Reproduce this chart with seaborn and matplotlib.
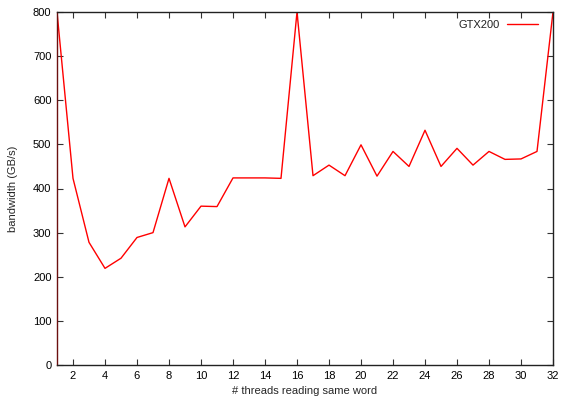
import matplotlib
matplotlib.use("Agg")
import matplotlib.pyplot as plt
import seaborn as sns
import pandas as pd

threads = list(range(1, 33))
bandwidth = [800, 423, 278, 219, 242, 289, 300, 423, 313, 360, 359, 424,
             424, 424, 423, 800, 429, 453, 429, 499, 428, 484, 450, 532,
             450, 491, 453, 484, 466, 467, 484, 800]
series_name = "GTX200"
x_ticks = list(range(2, 33, 2))
y_ticks = list(range(0, 801, 100))

sns.set_theme(style="white")
plt.rcParams['font.family'] = ['Liberation Sans', 'DejaVu Sans']

df = pd.DataFrame({"threads": threads, "bandwidth": bandwidth, "series": series_name})

fig = plt.figure(figsize=(5.61, 3.98), dpi=100)
ax = fig.add_axes([57/561, 1-365/398, (553-57)/561, (365-12)/398])
sns.lineplot(data=df, x="threads", y="bandwidth", hue="series",
             palette={series_name: "#ff0000"}, linewidth=1.0, ax=ax)

ax.set_xlim(1, 32)
ax.set_ylim(0, 800)
ax.set_xticks(x_ticks)
ax.set_yticks(y_ticks)
ax.tick_params(direction="in", length=4, width=0.8, top=True, right=True,
               bottom=True, left=True, labelsize=8, colors="#333333",
               labelcolor="black", pad=4)
for s in ax.spines.values():
    s.set_color("#222222")
    s.set_linewidth(1.0)
ax.spines["left"].set_color("#6b1010")
ax.set_xlabel("# threads reading same word", fontsize=8, labelpad=4)
ax.set_ylabel("bandwidth (GB/s)", fontsize=8, labelpad=11)

leg = ax.legend(loc="upper right", frameon=False, markerfirst=False,
                fontsize=8, handlelength=2.8, handletextpad=0.6,
                borderaxespad=0.3, bbox_to_anchor=(0.985, 1.0))
for t in leg.get_texts():
    t.set_color("#222222")

fig.savefig("out.png", dpi=100)
